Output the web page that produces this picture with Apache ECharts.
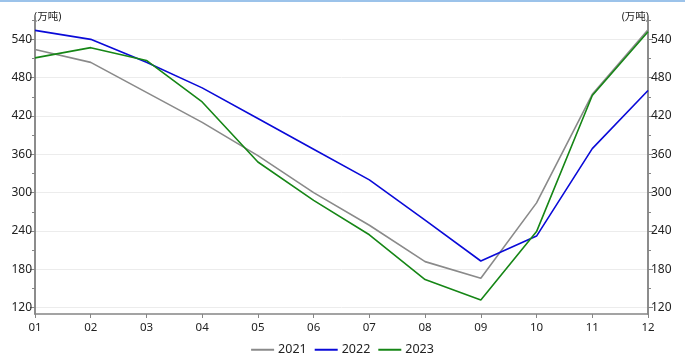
<!DOCTYPE html>
<html>
<head>
<meta charset="utf-8">
<script src="https://cdn.jsdelivr.net/npm/echarts@6/dist/echarts.min.js"></script>
<style>
html,body{margin:0;padding:0;background:#fff;}
#bar{position:absolute;left:0;top:0;width:685px;height:2px;background:#9cc3ea;}
#main{width:685px;height:362px;}
</style>
</head>
<body>
<div id="main"></div>
<div id="bar"></div>
<script>
const categories = ['01','02','03','04','05','06','07','08','09','10','11','12'];
const s2021 = [524, 504, 457, 410, 358, 300, 249, 192, 166, 284, 454, 555];
const s2022 = [554, 540, 504, 464, 416, 368, 320, 257, 193, 232, 369, 460];
const s2023 = [511, 527, 507, 442, 348, 288, 234, 164, 132, 239, 452, 552];
const majorTicks = [120, 180, 240, 300, 360, 420, 480, 540];
const minorTicks = [150, 210, 270, 330, 390, 450, 510, 570];
const yMin = 110, yMax = 575;
const unitName = '(万吨)';

const FONT = 'Noto Sans, Noto Sans CJK SC, sans-serif';
const axisColor = '#858585';
function yAx(pos, major, withName) {
  return {
    type: 'value', position: pos, min: yMin, max: yMax,
    name: withName ? unitName : '',
    nameLocation: 'end', nameGap: 0,
    nameTextStyle: { fontFamily: FONT, fontSize: 10.5, color: '#222', align: pos === 'left' ? 'left' : 'right', verticalAlign: 'middle', padding: pos === 'left' ? [2,0,0,-1] : [2,-1,0,0] },
    axisLine: { show: true, lineStyle: { color: axisColor, width: 1.5 } },
    axisTick: { show: true, customValues: major ? majorTicks : minorTicks, length: major ? 5 : 3, lineStyle: { color: axisColor, width: 1 } },
    axisLabel: { show: major, customValues: majorTicks, margin: 3, fontFamily: FONT, fontSize: 12, color: '#222' },
    splitLine: { show: major && pos === 'left', lineStyle: { color: '#ececec', width: 1 } }
  };
}
const chart = echarts.init(document.getElementById('main'));
chart.setOption({
  animation: false,
  grid: { left: 35, right: 37, top: 17, bottom: 48 },
  legend: {
    bottom: 1, left: 'center', icon: 'rect', itemWidth: 23, itemHeight: 2, itemGap: 8,
    textStyle: { fontFamily: FONT, fontSize: 12.5, color: '#222', padding: [0,0,0,-1] },
    data: ['2021', '2022', '2023']
  },
  xAxis: {
    type: 'category', data: categories, boundaryGap: false,
    axisLine: { lineStyle: { color: axisColor, width: 1.5 } },
    axisTick: { show: true, alignWithLabel: true, length: 4, lineStyle: { color: axisColor } },
    axisLabel: { margin: 8, fontFamily: FONT, fontSize: 11.5, color: '#222' },
    splitLine: { show: false }
  },
  yAxis: [yAx('left', true, true), yAx('left', false, false), yAx('right', true, true), yAx('right', false, false)],
  series: [
    { name: '2021', type: 'line', data: s2021, symbol: 'none', yAxisIndex: 0, lineStyle: { color: '#8a8a8a', width: 1.6 }, itemStyle: { color: '#8a8a8a' } },
    { name: '2022', type: 'line', data: s2022, symbol: 'none', yAxisIndex: 0, lineStyle: { color: '#0a0ad8', width: 1.6 }, itemStyle: { color: '#0a0ad8' } },
    { name: '2023', type: 'line', data: s2023, symbol: 'none', yAxisIndex: 0, lineStyle: { color: '#168616', width: 1.6 }, itemStyle: { color: '#168616' } }
  ]
});
</script>
</body>
</html>
